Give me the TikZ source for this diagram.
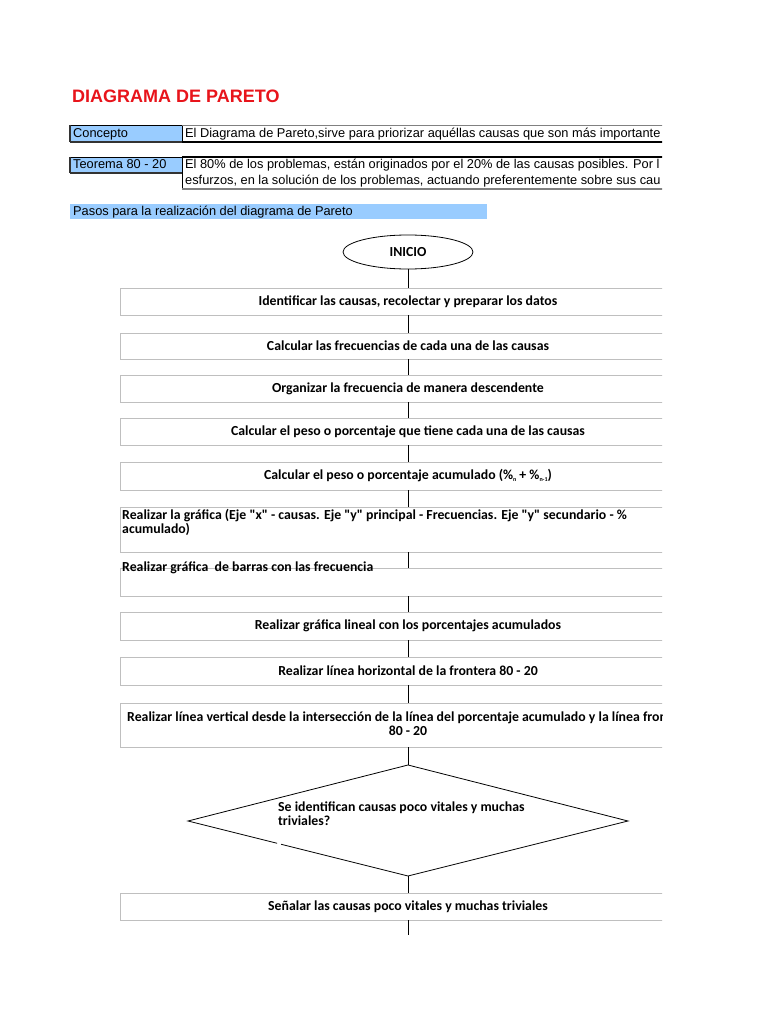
\documentclass[tikz,border=0pt]{standalone}
\usepackage{fontspec}
\usetikzlibrary{shapes.geometric,calc}
\newfontfamily\arialfont{Liberation Sans}
\newfontfamily\flowfont{Carlito}
\definecolor{cellblue}{HTML}{99CCFF}
\definecolor{boxgray}{HTML}{BFBFBF}
\definecolor{titlered}{HTML}{E8141B}
\definecolor{edgedark}{HTML}{333333}
\newcommand{\tinysub}[1]{\raisebox{-2pt}{\fontsize{6}{6}\selectfont #1}}
\tikzset{
  stepbox/.style={draw=boxgray, line width=0.9pt, minimum width=576pt, inner sep=0pt,
    font=\flowfont\bfseries\fontsize{13.8}{14}\selectfont, text=black},
  flowtext/.style={font=\flowfont\bfseries\fontsize{13.8}{14}\selectfont, inner sep=0pt},
  hdrtext/.style={font=\arialfont\fontsize{12.8}{15.5}\selectfont, inner sep=0pt, anchor=base west, align=left},
  conn/.style={draw=black, line width=0.8pt},
  startnode/.style={draw=black, line width=0.8pt, ellipse, minimum width=130pt, minimum height=34pt, inner sep=0pt,
    font=\flowfont\bfseries\fontsize{13.8}{14}\selectfont}
}
\begin{document}
\begin{tikzpicture}[x=1pt,y=-1pt]
\useasboundingbox (0,0) rectangle (768,1024);
\fill[white] (0,0) rectangle (768,1024);

\node[anchor=base west, inner sep=0pt, text=titlered,
  font=\arialfont\bfseries\fontsize{18}{20}\selectfont] (title) at (72,103) {DIAGRAMA DE PARETO};

\begin{scope}
\clip (0,0) rectangle (662,1024);
% ---- header table ----
\fill[cellblue] (70,125) rectangle (182,142);
\draw[black, line width=0.8pt] (70,125) rectangle (182,142);
\draw[edgedark, line width=1.3pt] (70,142) -- (182,142);
\draw[edgedark, line width=1.3pt] (70,125) -- (70,142);
\draw[gray, line width=0.8pt] (182,125) -- (700,125);
\draw[black, line width=1.4pt] (182,142) -- (700,142);
\node[hdrtext] (concepto) at (73,138) {Concepto};
\node[hdrtext] (conceptotxt) at (185,138) {El Diagrama de Pareto,sirve para priorizar aquéllas causas que son más importante};

\fill[cellblue] (70,157) rectangle (182,173);
\draw[black, line width=0.8pt] (70,157) rectangle (182,173);
\draw[edgedark, line width=1.3pt] (70,173) -- (182,173);
\draw[edgedark, line width=1.3pt] (70,157) -- (70,173);
\draw[black, line width=1.2pt] (182,157) -- (700,157);
\draw[black, line width=0.8pt] (182,157) -- (182,189);
\draw[gray, line width=1.4pt] (182,189) -- (700,189);
\node[hdrtext] (teorema) at (73,169) {Teorema 80 - 20};
\node[hdrtext] (teorematxt) at (185,184.5) {El 80\% de los problemas, están originados por el 20\% de las causas posibles. Por l\\esfurzos, en la solución de los problemas, actuando preferentemente sobre sus cau};

\fill[cellblue] (70,204) rectangle (487,219);
\node[hdrtext] (pasos) at (73,216) {Pasos para la realización del diagrama de Pareto};

% ---- flowchart ----
\node[startnode] (ini) at (408,252) {INICIO};
\node[stepbox, minimum height=27pt] (s1) at (408,301.5) {Identificar las causas, recolectar y preparar los datos};
\node[stepbox, minimum height=26pt] (s2) at (408,346) {Calcular las frecuencias de cada una de las causas};
\node[stepbox, minimum height=27pt] (s3) at (408,388.5) {Organizar la frecuencia de manera descendente};
\node[stepbox, minimum height=27pt] (s4) at (408,431.5) {Calcular el peso o porcentaje que tiene cada una de las causas};
\node[stepbox, minimum height=28pt] (s5) at (408,476) {Calcular el peso o porcentaje acumulado (\%\tinysub{n} + \%\tinysub{n-1})};
\node[stepbox, minimum height=45pt] (s6) at (408,529.5) {};
\node[flowtext, anchor=base west, align=left] (t6) at (122,533) {Realizar la gráfica (Eje "x" - causas. Eje "y" principal - Frecuencias. Eje "y" secundario - \%\\acumulado)};
\node[stepbox, minimum height=28pt] (s7) at (408,582) {};
\node[flowtext, anchor=base west] (t7) at (122,571) {Realizar gráfica\ \ de barras con las frecuencia};
\node[stepbox, minimum height=28pt] (s8) at (408,626) {Realizar gráfica lineal con los porcentajes acumulados};
\node[stepbox, minimum height=28pt] (s9) at (408,671) {Realizar línea horizontal de la frontera 80 - 20};
\node[stepbox, minimum height=44pt] (s10) at (408,725) {};
\node[flowtext, anchor=base west] (t10a) at (127,721) {Realizar línea vertical desde la intersección de la línea del porcentaje acumulado y la línea fron};
\node[flowtext, anchor=base] (t10b) at (408,735) {80 - 20};

\coordinate (dt) at (408,765);
\coordinate (dl) at (188,821);
\coordinate (dr) at (628,821);
\coordinate (db) at (408,876);
\draw[conn] ($(db)!0.577!(dl)$) -- (db) -- (dr) -- (dt) -- (dl) -- ($(dl)!0.405!(db)$);
\node[flowtext, anchor=base west, align=left] (dec) at (278,825) {Se identifican causas poco vitales y muchas\\triviales?};

\node[stepbox, minimum height=27pt] (s11) at (408,906.5) {Señalar las causas poco vitales y muchas triviales};
\coordinate (tail) at (408,935);

\draw[conn] (ini.south) -- (s1.north);
\draw[conn] (s1.south) -- (s2.north);
\draw[conn] (s2.south) -- (s3.north);
\draw[conn] (s3.south) -- (s4.north);
\draw[conn] (s4.south) -- (s5.north);
\draw[conn] (s5.south) -- (s6.north);
\draw[conn] (s6.south) -- (s7.north);
\draw[conn] (s7.south) -- (s8.north);
\draw[conn] (s8.south) -- (s9.north);
\draw[conn] (s9.south) -- (s10.north);
\draw[conn] (s10.south) -- (dt);
\draw[conn] (db) -- (s11.north);
\draw[conn] (s11.south) -- (tail);
\end{scope}
\end{tikzpicture}
\end{document}
